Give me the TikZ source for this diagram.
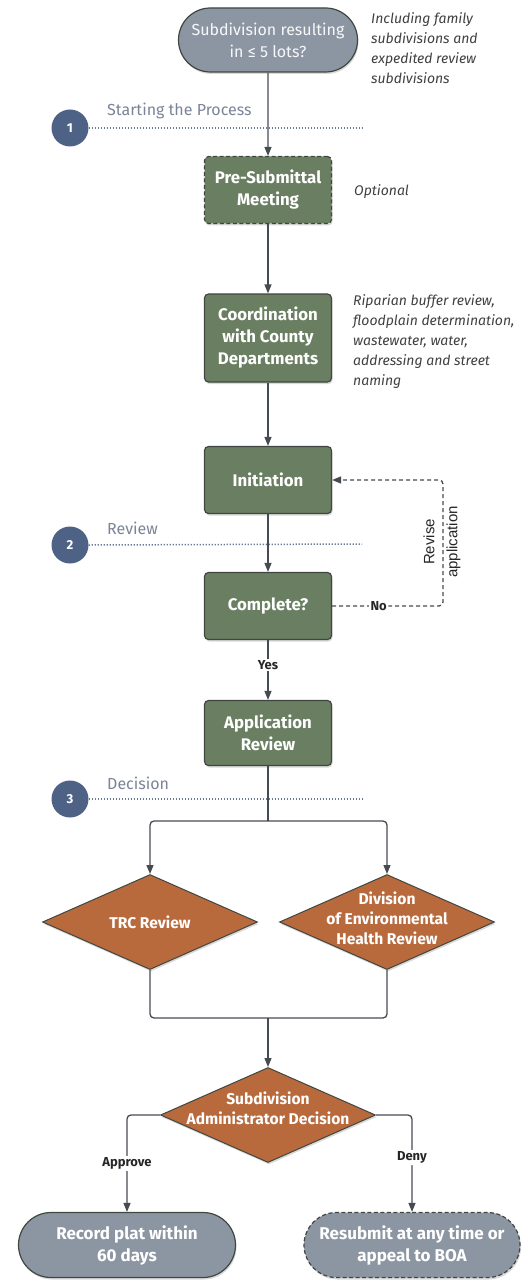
\documentclass[tikz,border=0pt]{standalone}
\usepackage{fontspec}
\setmainfont{Fira Sans}
\newfontfamily\arialf{Liberation Sans}
\usetikzlibrary{shapes.geometric,shapes.misc,arrows.meta,shadows}
\definecolor{boxgreen}{HTML}{6A7F62}
\definecolor{diaorange}{HTML}{B86A3C}
\definecolor{termgray}{HTML}{8C96A3}
\definecolor{phaseblue}{HTML}{4E6285}
\definecolor{phasetext}{HTML}{7A8496}
\definecolor{edgedark}{HTML}{404640}
\definecolor{linedark}{HTML}{464B52}
\begin{document}
\begin{tikzpicture}[x=1pt,y=-1pt,
  shadowed/.style={drop shadow={shadow xshift=1pt,shadow yshift=-2pt,opacity=0.3}},
  stepbox/.style={rectangle,rounded corners=4pt,draw=edgedark,line width=1.2pt,fill=boxgreen,
    text=white,font=\bfseries\fontsize{16.8}{22}\selectfont,align=center,
    minimum width=127pt,minimum height=67pt,inner sep=2pt,shadowed},
  term/.style={rounded rectangle,draw=edgedark,line width=1.2pt,fill=termgray,
    text=white,align=center,minimum height=65pt,inner sep=2pt,shadowed},
  dia/.style={diamond,draw=edgedark,line width=1pt,fill=diaorange,minimum width=215pt,
    minimum height=95pt,inner sep=0pt,shadowed},
  dialabel/.style={text=white,font=\bfseries\fontsize{15.6}{20}\selectfont,align=center},
  note/.style={anchor=west,font=\itshape\fontsize{14}{20}\selectfont,text=black!75,align=left,inner sep=0pt},
  phase/.style={circle,fill=phaseblue,text=white,font=\bfseries\fontsize{13}{13}\selectfont,minimum size=37pt,inner sep=0pt},
  phaselabel/.style={anchor=west,font=\fontsize{16}{18}\selectfont,text=phasetext,inner sep=0pt},
  phaseline/.style={draw=phaseblue!85,line width=1.5pt,dash pattern=on 1.2pt off 1.8pt},
  arr/.style={draw=linedark,line width=1.3pt,-{Triangle[length=9pt,width=7pt]}},
  conn/.style={draw=linedark,line width=1.3pt},
  edgelabel/.style={fill=white,font=\bfseries\fontsize{13}{14}\selectfont,text=black!85,inner sep=1.5pt}
]
\useasboundingbox (0,0) rectangle (527,1281);

% top terminal
\node[term,minimum width=183pt,minimum height=64pt,font=\fontsize{16}{22}\selectfont,text=white!93!termgray] (top) at (268,40) {Subdivision resulting\\in ≤ 5 lots?};
\node[note] (topnote) at (371,48) {Including family\\subdivisions and\\expedited review\\subdivisions};

% phase 1
\node[phase] (p1) at (70,128) {1};
\coordinate (p1end) at (362,128);
\draw[phaseline] (p1.east) -- (p1end);
\node[phaselabel] (p1lab) at (107,111) {Starting the Process};

% boxes
\node[stepbox,dashed,dash pattern=on 4pt off 2.5pt] (pre) at (268,190) {Pre-Submittal\\Meeting};
\node[note] (prenote) at (354,192) {Optional};
\node[stepbox,minimum height=88pt] (coord) at (268,338) {Coordination\\with County\\Departments};
\node[note] (coordnote) at (353,342) {Riparian buffer review,\\floodplain determination,\\wastewater, water,\\addressing and street\\naming};
\node[stepbox] (init) at (268,480) {Initiation};

% phase 2
\node[phase] (p2) at (70,545) {2};
\coordinate (p2end) at (362,544);
\draw[phaseline] (p2.east) -- (p2end);
\node[phaselabel] (p2lab) at (107,528) {Review};

\node[stepbox] (comp) at (268,606) {Complete?};
\node[stepbox,minimum height=65pt] (app) at (268,733) {Application\\Review};

% phase 3
\node[phase] (p3) at (70,799) {3};
\coordinate (p3end) at (362,799);
\draw[phaseline] (p3.east) -- (p3end);
\node[phaselabel] (p3lab) at (107,783) {Decision};

% diamonds
\node[dia] (trc) at (150,922) {};
\node[dialabel] (trclab) at (trc.center) {TRC Review};
\node[dia] (deh) at (387,922) {};
\node[dialabel] (dehlab) at (387,918) {Division\\of Environmental\\Health Review};
\node[dia] (dec) at (268,1115) {};
\node[dialabel] (declab) at (268,1108) {Subdivision\\Administrator Decision};

% bottom terminals
\node[term,minimum width=221pt,font=\bfseries\fontsize{17}{22}\selectfont] (rec) at (127,1245) {Record plat within\\60 days};
\node[term,dashed,dash pattern=on 4pt off 2.5pt,minimum width=220pt,font=\bfseries\fontsize{17}{22}\selectfont] (resub) at (412,1245) {Resubmit at any time or\\appeal to BOA};

% connectors
\draw[arr] (top) -- (pre);
\draw[arr] (pre) -- (coord);
\draw[arr] (coord) -- (init);
\draw[arr] (init) -- (comp);
\draw[arr] (comp) -- node[edgelabel,pos=0.42] {Yes} (app);

\coordinate (loopc) at (443,606);
\draw[conn,dashed,dash pattern=on 4pt off 3pt,rounded corners=4pt,-{Triangle[length=9pt,width=7pt]}]
  (comp.east) -- node[edgelabel,pos=0.42] {No} (loopc) |- (init.east);
\node[font=\arialf\fontsize{15}{23}\selectfont,rotate=90,align=center,text=black!85] (revise) at (442,542) {Revise\\application};

\coordinate (split) at (268,821);
\draw[conn] (app.south) -- (split);
\draw[arr,rounded corners=4pt] (split) -| (trc.north);
\draw[arr,rounded corners=4pt] (split) -| (deh.north);

\coordinate (merge) at (268,1018);
\draw[conn,rounded corners=4pt] (trc.south) |- (merge);
\draw[conn,rounded corners=4pt] (deh.south) |- (merge);
\draw[arr] (merge) -- (dec.north);

\draw[arr,rounded corners=4pt] (dec.west) -| node[edgelabel,pos=0.75] {Approve} (rec.north);
\draw[arr,rounded corners=4pt] (dec.east) -| node[edgelabel,pos=0.72] {Deny} (resub.north);
\end{tikzpicture}
\end{document}
